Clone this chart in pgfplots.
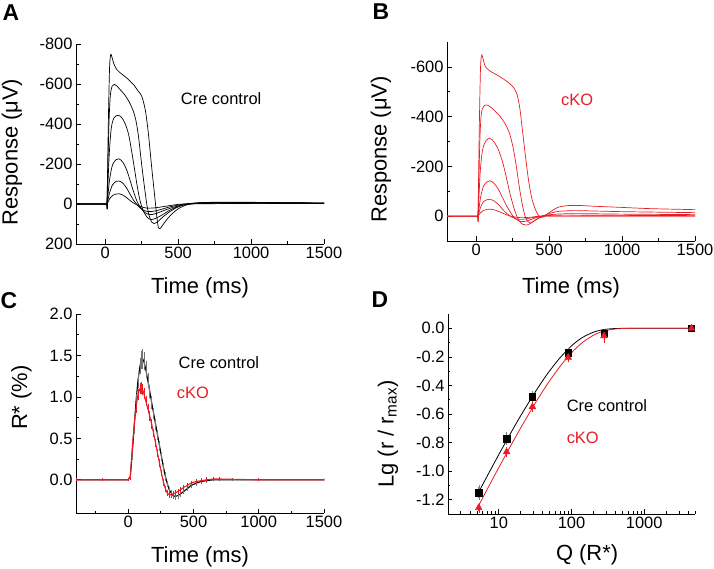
\documentclass[border=0pt]{standalone}
\usepackage{fontspec}
\setmainfont{Liberation Sans}
\usepackage{pgfplots}
\pgfplotsset{compat=1.18}
\definecolor{myred}{RGB}{232,28,36}
\pgfplotsset{
  mystyle/.style={
    scale only axis,
    axis y line*=left,
    axis x line*=bottom,
    axis line style={line width=0.8pt,-},
    tick align=inside,
    major tick length=4.5bp, minor tick length=2.5bp,
    every tick/.style={black, line width=0.7pt},
    tick label style={font=\fontsize{16.5}{19}\selectfont},
    label style={font=\fontsize{22}{25}\selectfont},
    /pgf/number format/assume math mode=true,
    /pgf/number format/1000 sep={},
  },
  trace/.style={line width=0.7pt, smooth, tension=0.5, mark=none},
}
\begin{document}
\begin{tikzpicture}
\path[use as bounding box] (0,0) rectangle (714bp,569bp);
\node[font=\fontsize{23}{27}\selectfont\bfseries] at (11bp,556bp) {A};
\node[font=\fontsize{23}{27}\selectfont\bfseries] at (381bp,557bp) {B};
\node[font=\fontsize{23}{27}\selectfont\bfseries] at (9bp,268bp) {C};
\node[font=\fontsize{23}{27}\selectfont\bfseries] at (380bp,269bp) {D};

% ---------------- A ----------------
\begin{axis}[mystyle, at={(76bp,325bp)}, anchor=south west,
  width=248bp, height=200bp,
  y dir=reverse,
  xmin=-200, xmax=1500, ymin=-800, ymax=200,
  xtick={0,500,1000,1500}, minor x tick num=1,
  ytick={-800,-600,-400,-200,0,200}, minor y tick num=1,
  xlabel={Time (ms)}, ylabel={Response (μV)},
  xlabel style={at={(axis description cs:0.5,-0.22)}, anchor=center},
  ylabel style={at={(axis description cs:-0.258,0.46)}, anchor=center},
]
\addplot[trace, black] coordinates {(-200,0)(0,0)(12,0)(22,-420)(30,-680)(38,-748)(46,-735)(60,-700)(80,-672)(110,-652)(140,-635)(170,-615)(200,-592)(225,-565)(250,-540)(275,-470)(295,-360)(310,-250)(322,-160)(335,-70)(345,0)(355,70)(365,118)(378,122)(395,105)(420,80)(460,48)(510,20)(570,2)(630,-5)(700,-8)(900,-9)(1200,-7)(1500,-5)};
\addplot[trace, black] coordinates {(-200,0)(0,0)(12,0)(25,-380)(35,-540)(48,-590)(62,-598)(80,-590)(105,-570)(135,-545)(165,-510)(190,-470)(210,-420)(228,-340)(245,-230)(258,-150)(272,-70)(285,0)(300,55)(318,90)(335,98)(355,92)(385,72)(430,45)(490,18)(560,0)(640,-6)(800,-8)(1100,-7)(1500,-5)};
\addplot[trace, black] coordinates {(-200,0)(0,0)(12,0)(28,-250)(42,-380)(60,-430)(85,-443)(110,-435)(135,-405)(160,-350)(180,-270)(198,-190)(215,-110)(232,-40)(245,0)(265,40)(290,68)(315,78)(345,72)(390,55)(440,32)(500,12)(570,0)(650,-5)(900,-7)(1500,-4)};
\addplot[trace, black] coordinates {(-200,0)(0,0)(12,0)(30,-120)(50,-195)(75,-222)(95,-226)(120,-210)(145,-175)(170,-120)(195,-60)(220,-10)(235,10)(260,35)(290,50)(325,52)(370,42)(430,25)(500,10)(580,0)(700,-4)(1000,-5)(1500,-3)};
\addplot[trace, black] coordinates {(-200,0)(0,0)(12,0)(30,-55)(50,-95)(75,-113)(95,-115)(120,-105)(145,-82)(170,-50)(195,-18)(215,0)(240,20)(275,35)(315,38)(370,30)(440,15)(520,3)(600,-2)(1000,-4)(1500,-3)};
\addplot[trace, black] coordinates {(-200,0)(0,0)(12,0)(30,-25)(50,-42)(75,-50)(95,-51)(120,-45)(150,-30)(180,-12)(205,0)(240,12)(280,20)(330,20)(400,13)(480,4)(560,0)(1000,-3)(1500,-2)};
\node[font=\fontsize{16.5}{19}\selectfont] at (axis cs:795,-525) {Cre control};
\end{axis}

% ---------------- B ----------------
\begin{axis}[mystyle, at={(447bp,328bp)}, anchor=south west,
  width=248bp, height=199bp,
  y dir=reverse,
  xmin=-200, xmax=1500, ymin=-700, ymax=100,
  xtick={0,500,1000,1500}, minor x tick num=1,
  ytick={-600,-400,-200,0}, minor y tick num=1,
  xlabel={Time (ms)}, ylabel={Response (μV)},
  xlabel style={at={(axis description cs:0.5,-0.236)}, anchor=center},
  ylabel style={at={(axis description cs:-0.266,0.46)}, anchor=center},
]
\addplot[trace, myred] coordinates {(-200,0)(0,0)(12,0)(22,-380)(30,-600)(38,-648)(46,-635)(60,-605)(80,-590)(110,-578)(150,-565)(190,-550)(225,-535)(255,-518)(280,-490)(300,-430)(320,-330)(340,-230)(360,-140)(380,-75)(400,-35)(420,-10)(440,5)(460,4)(480,-5)(520,-22)(560,-35)(620,-42)(700,-43)(800,-40)(1000,-35)(1200,-30)(1500,-26)};
\addplot[trace, myred] coordinates {(-200,0)(0,0)(12,0)(25,-300)(35,-410)(50,-440)(70,-447)(95,-440)(130,-422)(165,-400)(200,-370)(230,-330)(255,-270)(275,-200)(295,-120)(315,-50)(335,0)(355,22)(370,28)(390,22)(420,10)(450,0)(475,-5)(520,-14)(580,-20)(700,-22)(1000,-18)(1500,-14)};
\addplot[trace, myred] coordinates {(-200,0)(0,0)(12,0)(28,-180)(45,-270)(70,-305)(95,-312)(120,-300)(150,-270)(180,-220)(205,-160)(230,-95)(255,-40)(275,-5)(295,20)(320,33)(345,36)(370,30)(400,18)(440,5)(475,-3)(550,-8)(700,-10)(1000,-8)(1500,-6)};
\addplot[trace, myred] coordinates {(-200,0)(0,0)(12,0)(30,-75)(50,-120)(75,-138)(95,-142)(120,-133)(150,-110)(180,-75)(210,-40)(240,-10)(265,8)(295,20)(325,22)(360,17)(410,6)(460,-1)(600,-4)(1000,-3)(1500,-2)};
\addplot[trace, myred] coordinates {(-200,0)(0,0)(12,0)(30,-35)(50,-58)(75,-66)(95,-68)(125,-60)(155,-45)(185,-25)(215,-8)(245,4)(280,12)(320,13)(370,8)(430,2)(500,0)(1500,0)};
\addplot[trace, myred] coordinates {(-200,0)(0,0)(12,0)(30,-14)(50,-23)(75,-27)(95,-28)(130,-24)(170,-15)(210,-5)(250,2)(300,6)(360,5)(430,1)(500,0)(1500,0)};
\node[font=\fontsize{16.5}{19}\selectfont, text=myred] at (axis cs:692,-468) {cKO};
\end{axis}

% ---------------- C ----------------
\begin{axis}[mystyle, at={(76bp,56bp)}, anchor=south west,
  width=248bp, height=199bp,
  xmin=-400, xmax=1500, ymin=-0.4, ymax=2.0,
  xtick={0,500,1000,1500}, minor xtick={-250,250,750,1250},
  ytick={0,0.5,1.0,1.5,2.0}, minor y tick num=1,
  yticklabel style={/pgf/number format/.cd, fixed, zerofill, precision=1},
  xlabel={Time (ms)}, ylabel={R* (\%)},
  xlabel style={at={(axis description cs:0.5,-0.22)}, anchor=center},
  ylabel style={at={(axis description cs:-0.22,0.58)}, anchor=center},
]
\addplot[black, line width=1.1pt, mark=none,
  error bars/.cd, y dir=both, y explicit,
  error bar style={black!55, line width=0.5pt},
  error mark options={black!55, mark size=1.6bp, line width=0.5pt}]
 table[x=t, y=v, y error=e] {
t v e
-400 0 0
-200 0 0
0 0 0
16 0.04 0.02
30 0.3 0.04
45 0.62 0.05
60 0.95 0.06
75 1.2 0.07
90 1.37 0.08
100 1.44 0.09
110 1.46 0.1
120 1.43 0.09
135 1.33 0.08
150 1.2 0.07
165 1.07 0.06
180 0.93 0.06
195 0.8 0.05
210 0.67 0.05
225 0.54 0.04
240 0.41 0.04
255 0.28 0.03
270 0.15 0.03
285 0.04 0.03
300 -0.05 0.02
315 -0.12 0.02
330 -0.16 0.02
345 -0.19 0.02
360 -0.2 0.02
380 -0.19 0.02
400 -0.17 0.015
425 -0.14 0.015
450 -0.11 0.01
480 -0.07 0.01
520 -0.04 0.01
560 -0.02 0.01
600 -0.01 0.01
650 0 0
800 0 0
1000 0 0
1500 0 0
};
\addplot[myred, line width=1.1pt, mark=none,
  error bars/.cd, y dir=both, y explicit,
  error bar style={myred, line width=0.5pt},
  error mark options={myred, mark size=1.6bp, line width=0.5pt}]
 table[x=t, y=v, y error=e] {
t v e
-400 0 0
-200 0 0
0 0 0
16 0.04 0.02
30 0.36 0.03
45 0.66 0.04
60 0.88 0.05
75 1.03 0.05
90 1.1 0.05
100 1.11 0.05
110 1.09 0.05
120 1.04 0.05
135 0.95 0.04
150 0.86 0.04
165 0.77 0.04
180 0.67 0.04
195 0.56 0.03
210 0.44 0.03
225 0.32 0.03
240 0.2 0.03
255 0.08 0.02
270 -0.03 0.02
285 -0.11 0.02
300 -0.16 0.02
315 -0.18 0.02
330 -0.18 0.02
345 -0.17 0.02
360 -0.16 0.02
380 -0.14 0.015
400 -0.12 0.015
425 -0.09 0.01
450 -0.07 0.01
480 -0.04 0.01
520 -0.02 0.01
560 -0.01 0.01
600 0.0 0.01
650 0.01 0
700 0.01 0
1000 0 0
1500 0 0
};
\node[font=\fontsize{16.5}{19}\selectfont] at (axis cs:695,1.41) {Cre control};
\node[font=\fontsize{16.5}{19}\selectfont, text=myred] at (axis cs:496,1.05) {cKO};
\end{axis}

% ---------------- D ----------------
\begin{axis}[mystyle, at={(448bp,55bp)}, anchor=south west,
  width=247bp, height=200bp,
  xmode=log,
  xmin=2, xmax=5000, ymin=-1.3, ymax=0.1,
  xtick={10,100,1000}, xticklabels={10,100,1000},
  minor xtick={2,3,4,5,6,7,8,9,20,30,40,50,60,70,80,90,200,300,400,500,600,700,800,900,2000,3000,4000,5000},
  ytick={-1.2,-1.0,-0.8,-0.6,-0.4,-0.2,0}, minor y tick num=1,
  yticklabel style={/pgf/number format/.cd, fixed, zerofill, precision=1},
  xlabel={Q (R*)}, ylabel={Lg (r / r\textsubscript{max})},
  xlabel style={at={(axis description cs:0.563,-0.205)}, anchor=center},
  ylabel style={at={(axis description cs:-0.243,0.4)}, anchor=center},
]
\addplot[black, line width=0.8pt, smooth, mark=none] coordinates {(5,-1.170)(7,-1.0299)(10,-0.8839)(15,-0.7226)(20,-0.6122)(30,-0.4648)(40,-0.3678)(50,-0.2981)(70,-0.2043)(100,-0.1230)(125,-0.0829)(150,-0.0568)(200,-0.0273)(250,-0.0133)(300,-0.0066)(400,-0.0016)(600,-0.0001)(1000,0)(4500,0)};
\addplot[myred, line width=0.8pt, smooth, mark=none] coordinates {(5,-1.264)(7,-1.1226)(10,-0.9749)(15,-0.8107)(20,-0.6975)(30,-0.5446)(40,-0.4423)(50,-0.3678)(70,-0.2649)(100,-0.1715)(125,-0.1230)(150,-0.0896)(200,-0.0489)(250,-0.0272)(300,-0.0153)(400,-0.0050)(600,-0.0005)(1000,0)(4500,0)};
\addplot[black, only marks, mark=square*, mark size=3.2bp,
  error bars/.cd, y dir=both, y explicit,
  error bar style={black!50, line width=0.6pt},
  error mark options={black!50, mark size=2bp}]
 coordinates {(5.3,-1.15) +- (0,0.04) (12.8,-0.772) +- (0,0.03) (29,-0.48) +- (0,0.025) (90,-0.171) +- (0,0.02) (280,-0.036) +- (0,0.02) (4470,0) +- (0,0.015)};
\addplot[myred, only marks, mark=triangle*, mark size=4bp,
  error bars/.cd, y dir=both, y explicit,
  error bar style={myred, line width=0.6pt},
  error mark options={myred, mark size=2bp}]
 coordinates {(5.3,-1.256) +- (0,0.02) (12.8,-0.866) +- (0,0.02) (29,-0.55) +- (0,0.02) (90,-0.204) +- (0,0.02) (280,-0.053) +- (0,0.035) (4470,0) +- (0,0.015)};
\node[font=\fontsize{16.5}{19}\selectfont, anchor=west] at (axis cs:77,-0.538) {Cre control};
\node[font=\fontsize{16.5}{19}\selectfont, anchor=west, text=myred] at (axis cs:77,-0.77) {cKO};
\end{axis}
\end{tikzpicture}
\end{document}
